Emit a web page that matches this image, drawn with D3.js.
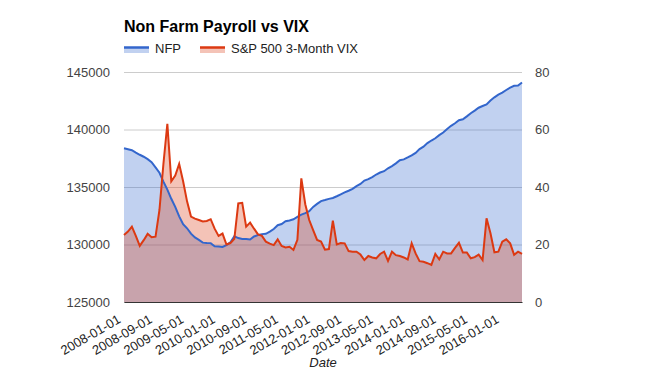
<html>
<head>
<meta charset="utf-8">
<script src="https://d3js.org/d3.v7.min.js"></script>
<style>
  body { margin: 0; background: #fff; }
  text { font-family: Arial, "Liberation Sans", sans-serif; }
</style>
</head>
<body>
<svg width="645" height="375"></svg>
<script>
// Non farm payroll, thousands, monthly Jan 2008 .. Jun 2016
const nfp = [
  138365, 138279, 138199, 137985, 137803, 137631, 137421, 137162, 136710, 136241, 135471, 134774,
  133976, 133275, 132449, 131765, 131411, 130944, 130617, 130401, 130162, 130126, 130120, 129847,
  129825, 129793, 129947, 130198, 130709, 130560, 130487, 130471, 130436, 130696, 130828, 130902,
  130926, 131114, 131349, 131673, 131780, 132020, 132090, 132189, 132402, 132603, 132732, 132904,
  133272, 133535, 133776, 133864, 133970, 134047, 134198, 134367, 134528, 134677, 134837, 135081,
  135264, 135560, 135682, 135866, 136086, 136258, 136373, 136628, 136824, 137052, 137324, 137404,
  137570, 137752, 137968, 138298, 138511, 138823, 139043, 139237, 139509, 139741, 140045, 140321,
  140542, 140808, 140892, 141145, 141418, 141646, 141893, 142042, 142187, 142518, 142798, 143036,
  143204, 143437, 143637, 143795, 143819, 144081
];
// S&P 500 3-month VIX, same months
const vix = [
  23.3, 24.5, 26.2, 23.0, 19.5, 21.5, 23.7, 22.5, 22.7, 32.0, 48.0, 62.0,
  42.0, 44.0, 48.0, 42.0, 35.0, 29.7, 29.0, 28.5, 28.0, 28.2, 28.8, 25.5,
  23.0, 23.8, 20.0, 20.5, 22.0, 34.3, 34.5, 26.2, 27.6, 25.5, 23.5, 23.0,
  21.0, 20.3, 19.8, 21.8, 19.5, 19.0, 19.2, 18.1, 21.6, 43.0, 34.0, 28.5,
  25.0, 21.6, 21.0, 18.2, 18.4, 28.3, 20.0, 20.5, 20.4, 17.7, 17.5, 17.5,
  16.5, 14.6, 16.0, 15.5, 15.2, 16.7, 17.5, 14.3, 17.5, 16.3, 16.0, 15.5,
  14.8, 20.4, 16.9, 14.2, 14.0, 13.5, 12.9, 16.7, 14.8, 17.5, 16.9, 16.9,
  18.8, 20.6, 17.2, 17.2, 15.2, 15.6, 16.5, 14.6, 29.1, 23.9, 17.3, 17.5,
  21.0, 21.8, 20.4, 16.4, 17.5, 16.7
];
const months = d3.timeMonth.range(new Date(2008, 0, 1), new Date(2016, 6, 1)).map(d3.timeFormat("%Y-%m-%d"));
const leftTicks = [125000, 130000, 135000, 140000, 145000];
const rightTicks = [0, 20, 40, 60, 80];

const plotLeft = 124, plotRight = 522, plotTop = 72, plotBottom = 302;
const blue = "#3366cc", red = "#dc3912";

const svg = d3.select("svg");
const x = d3.scalePoint().domain(months).range([plotLeft, plotRight]);
const yL = d3.scaleLinear().domain([125000, 145000]).range([plotBottom, plotTop]);
const yR = d3.scaleLinear().domain([0, 80]).range([plotBottom, plotTop]);

// left axis + gridlines
svg.append("g")
  .attr("transform", "translate(" + plotLeft + ",0)")
  .call(d3.axisLeft(yL).tickValues(leftTicks).tickFormat(d3.format("d"))
    .tickSize(-(plotRight - plotLeft)).tickPadding(14))
  .call(g => g.select(".domain").remove())
  .call(g => g.selectAll("line").attr("stroke", "#ccc"))
  .call(g => g.selectAll("text").attr("fill", "#444").style("font-size", "13px"));

// right axis
svg.append("g")
  .attr("transform", "translate(" + plotRight + ",0)")
  .call(d3.axisRight(yR).tickValues(rightTicks).tickSize(0).tickPadding(13))
  .call(g => g.select(".domain").remove())
  .call(g => g.selectAll("text").attr("fill", "#444").style("font-size", "13px"));

const nfpArea = d3.area().x((d, i) => x(months[i])).y0(plotBottom).y1(d => yL(d));
const vixArea = d3.area().x((d, i) => x(months[i])).y0(plotBottom).y1(d => yR(d));

svg.append("path").datum(nfp).attr("d", nfpArea).attr("fill", blue).attr("fill-opacity", 0.3);
svg.append("path").datum(vix).attr("d", vixArea).attr("fill", red).attr("fill-opacity", 0.3);
svg.append("path").datum(nfp).attr("d", nfpArea.lineY1()).attr("fill", "none")
  .attr("stroke", blue).attr("stroke-width", 2);
svg.append("path").datum(vix).attr("d", vixArea.lineY1()).attr("fill", "none")
  .attr("stroke", red).attr("stroke-width", 2);

// x axis
svg.append("g")
  .attr("transform", "translate(0," + plotBottom + ")")
  .call(d3.axisBottom(x).tickValues(months.filter((d, i) => i % 8 == 0)).tickSize(0))
  .call(g => g.select(".domain").attr("stroke", "#333").attr("stroke-width", 1.2))
  .call(g => g.selectAll("text")
    .attr("x", 0).attr("y", 0).attr("dy", 0)
    .attr("text-anchor", "end")
    .attr("transform", "translate(-3,20) rotate(-30)")
    .attr("fill", "#222").style("font-size", "13px"));

svg.append("text").attr("x", (plotLeft + plotRight) / 2).attr("y", 367)
  .attr("text-anchor", "middle").style("font-style", "italic").style("font-size", "13px")
  .attr("fill", "#222").text("Date");

// title
svg.append("text").attr("x", plotLeft).attr("y", 32)
  .style("font-size", "16px").style("font-weight", "bold").attr("fill", "#000")
  .text("Non Farm Payroll vs VIX");

// legend
const legend = [["NFP", blue, 124], ["S&P 500 3-Month VIX", red, 200]];
legend.forEach(([label, c, lx]) => {
  svg.append("rect").attr("x", lx).attr("y", 47).attr("width", 25).attr("height", 6)
    .attr("fill", c).attr("fill-opacity", 0.3);
  svg.append("line").attr("x1", lx).attr("x2", lx + 25).attr("y1", 47.5).attr("y2", 47.5)
    .attr("stroke", c).attr("stroke-width", 2.5);
  svg.append("text").attr("x", lx + 31).attr("y", 52.5)
    .style("font-size", "13px").attr("fill", "#222").text(label);
});
</script>
</body>
</html>
